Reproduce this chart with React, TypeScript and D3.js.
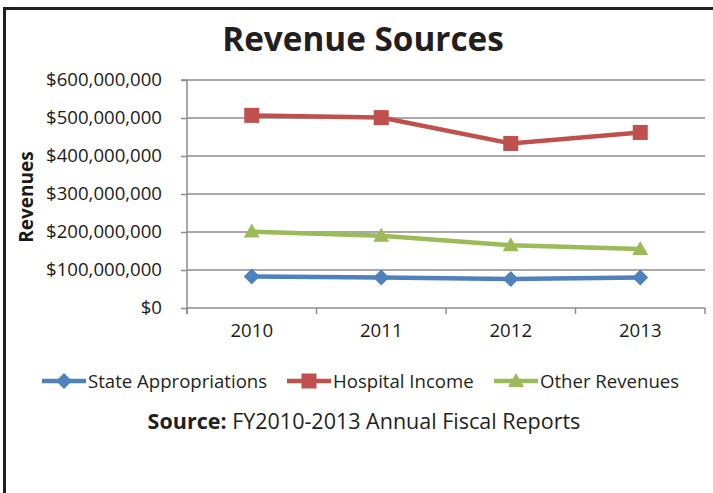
import { useRef, useEffect } from 'react';
import * as d3 from 'd3';

const years = ['2010', '2011', '2012', '2013'];
const stateAppropriations = [83000000, 80000000, 76000000, 80000000];
const hospitalIncome = [507000000, 501000000, 433000000, 462000000];
const otherRevenues = [201000000, 190000000, 165000000, 155000000];
const yTicks = [0, 100000000, 200000000, 300000000, 400000000, 500000000, 600000000];

const seriesNames = ['State Appropriations', 'Hospital Income', 'Other Revenues'];
const seriesColors = ['#4f81bd', '#c0504d', '#9bbb59'];
const seriesMarkers = ['diamond', 'square', 'triangle'];

const W = 713;
const H = 493;
const FONT = '"Open Sans", "Liberation Sans", sans-serif';

const App: React.FC = () => {
  const svgRef = useRef<SVGSVGElement>(null);

  useEffect(() => {
    if (!svgRef.current) return;
    const svg = d3.select(svgRef.current);
    svg.selectAll('*').remove();

    const left = 187, right = 705, top = 80, bottom = 308;

    const x = d3.scaleBand().domain(years).range([left, right]);
    const y = d3.scaleLinear().domain([0, 600000000]).range([bottom, top]);

    // frame
    svg.append('path')
      .attr('d', `M4.5,${H} L4.5,8.5 L${W},8.5`)
      .attr('fill', 'none')
      .attr('stroke', '#231f20')
      .attr('stroke-width', 3);

    // title
    svg.append('text')
      .attr('x', 363)
      .attr('y', 51)
      .attr('text-anchor', 'middle')
      .attr('font-family', FONT)
      .attr('font-weight', 'bold')
      .attr('font-size', 33.3)
      .attr('fill', '#231f20')
      .text('Revenue Sources');

    // gridlines
    svg.append('g')
      .selectAll('line')
      .data(yTicks.slice(1))
      .enter()
      .append('line')
      .attr('x1', left)
      .attr('x2', right)
      .attr('y1', d => y(d))
      .attr('y2', d => y(d))
      .attr('stroke', '#8c8c8c')
      .attr('stroke-width', 1.5);

    // y axis
    const yAxis = svg.append('g')
      .attr('transform', `translate(${left},0)`)
      .call(d3.axisLeft(y).tickValues(yTicks).tickSize(6).tickPadding(19)
        .tickFormat(d => '$' + d3.format(',')(d as number)));
    yAxis.select('.domain').attr('stroke', '#8c8c8c').attr('stroke-width', 1.5)
      .attr('d', `M-6,${top}H0V${bottom + 6}`);
    yAxis.selectAll('.tick line').attr('stroke', '#8c8c8c').attr('stroke-width', 1.5);
    yAxis.selectAll('.tick text')
      .attr('font-family', FONT)
      .attr('font-size', 18.6)
      .attr('fill', '#1a1a1a');

    // x axis
    const xAxis = svg.append('g')
      .attr('transform', `translate(0,${bottom})`)
      .call(d3.axisBottom(x).tickSize(0).tickPadding(16));
    xAxis.select('.domain').attr('stroke', '#8c8c8c').attr('stroke-width', 1.5)
      .attr('d', `M${left},0H${right}`);
    xAxis.selectAll('.tick text')
      .attr('font-family', FONT)
      .attr('font-size', 18.6)
      .attr('fill', '#1a1a1a');
    xAxis.selectAll('.boundary')
      .data(years.concat(['end']))
      .enter()
      .append('line')
      .attr('x1', (d, i) => left + i * x.bandwidth())
      .attr('x2', (d, i) => left + i * x.bandwidth())
      .attr('y1', 0)
      .attr('y2', 6)
      .attr('stroke', '#8c8c8c')
      .attr('stroke-width', 1.5);

    // y axis title
    svg.append('text')
      .attr('transform', 'translate(33,197) rotate(-90)')
      .attr('text-anchor', 'middle')
      .attr('font-family', FONT)
      .attr('font-weight', 'bold')
      .attr('font-size', 19)
      .attr('fill', '#1a1a1a')
      .text('Revenues');

    const cx = (d: string) => (x(d) as number) + x.bandwidth() / 2;

    const drawMarker = (g: d3.Selection<SVGGElement, unknown, null, undefined>, kind: string, px: number, py: number, color: string) => {
      if (kind === 'diamond') {
        g.append('path')
          .attr('d', `M${px},${py - 8}L${px + 8},${py}L${px},${py + 8}L${px - 8},${py}Z`)
          .attr('fill', color);
      } else if (kind === 'square') {
        g.append('rect')
          .attr('x', px - 7.5).attr('y', py - 7.5)
          .attr('width', 15).attr('height', 15)
          .attr('fill', color);
      } else {
        g.append('path')
          .attr('d', `M${px},${py - 8}L${px + 8},${py + 6}L${px - 8},${py + 6}Z`)
          .attr('fill', color);
      }
    };

    const allSeries = [stateAppropriations, hospitalIncome, otherRevenues];
    const line = d3.line<number>()
      .x((d, i) => cx(years[i]))
      .y(d => y(d));

    allSeries.forEach((vals, s) => {
      const g = svg.append('g');
      g.append('path')
        .datum(vals)
        .attr('d', line)
        .attr('fill', 'none')
        .attr('stroke', seriesColors[s])
        .attr('stroke-width', 4.5);
      vals.forEach((v, i) => drawMarker(g as any, seriesMarkers[s], cx(years[i]), y(v), seriesColors[s]));
    });

    // legend
    const legendY = 381;
    const legendX = [42, 287, 494];
    seriesNames.forEach((name, s) => {
      const g = svg.append('g');
      g.append('line')
        .attr('x1', legendX[s]).attr('x2', legendX[s] + 44)
        .attr('y1', legendY).attr('y2', legendY)
        .attr('stroke', seriesColors[s])
        .attr('stroke-width', 4.5);
      drawMarker(g as any, seriesMarkers[s], legendX[s] + 22, legendY, seriesColors[s]);
      g.append('text')
        .attr('x', legendX[s] + 46)
        .attr('y', legendY)
        .attr('dy', '0.35em')
        .attr('font-family', FONT)
        .attr('font-size', 18.6)
        .attr('fill', '#231f20')
        .text(name);
    });

    // source
    const src = svg.append('text')
      .attr('x', 364)
      .attr('y', 429)
      .attr('text-anchor', 'middle')
      .attr('font-family', FONT)
      .attr('font-size', 21.5)
      .attr('fill', '#231f20');
    src.append('tspan').attr('font-weight', 'bold').text('Source:');
    src.append('tspan').text(' FY2010-2013 Annual Fiscal Reports');
  }, []);

  return (
    <svg
      ref={svgRef}
      width={W}
      height={H}
      style={{ position: 'absolute', left: 0, top: 0, background: '#fff' }}
    />
  );
};

export default App;
